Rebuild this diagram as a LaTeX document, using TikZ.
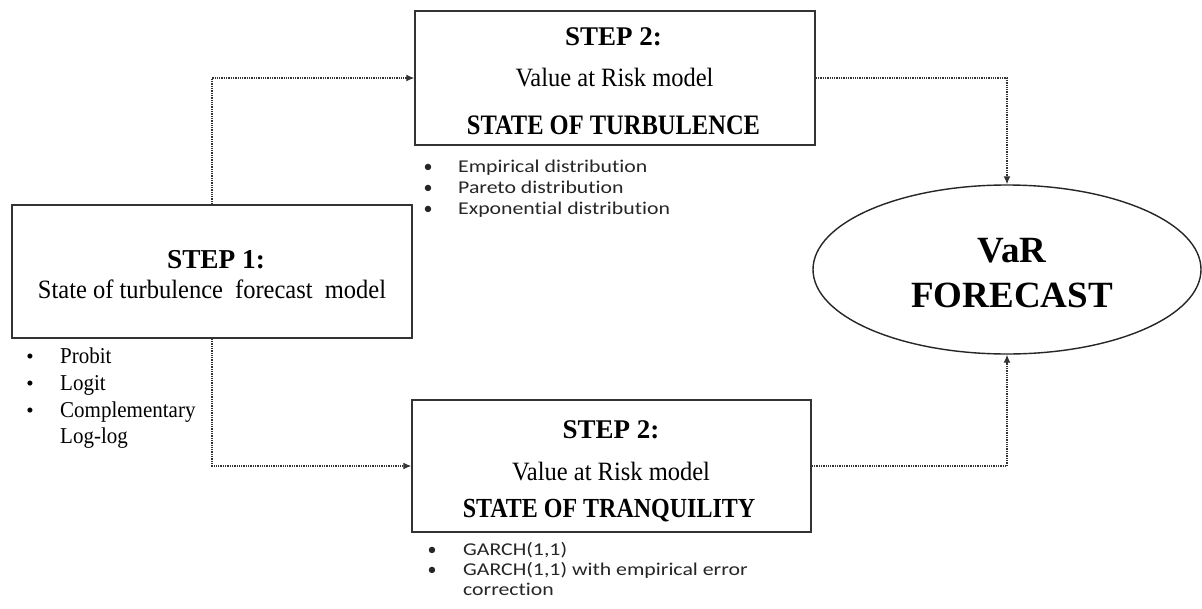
\documentclass[tikz,border=0pt]{standalone}
\usepackage{fontspec}
\setmainfont{Liberation Serif}
\newfontfamily\calib[Ligatures=NoCommon]{Carlito}
\usetikzlibrary{shapes.geometric,arrows.meta}
\newcommand{\tallbox}[2]{\scalebox{1}[#1]{#2}}
\newcommand{\widebox}[1]{\scalebox{1.21}[1]{#1}}
\tikzset{
  box/.style={draw=black!80, line width=1.4pt, rectangle, inner sep=0pt},
  oval/.style={draw=black!85, line width=1.4pt, ellipse, inner sep=0pt},
  conn/.style={draw=black!80, line width=1.3pt, densely dotted, -{Latex[length=8pt,width=7pt]}},
  txt/.style={anchor=base, inner sep=0pt, text=black},
  bul/.style={anchor=base, inner sep=0pt, text=black},
  itm/.style={anchor=base west, inner sep=0pt, text=black},
  cal/.style={font=\calib\fontsize{18}{22}\selectfont, text=black!85},
}
\begin{document}
\begin{tikzpicture}[x=1pt,y=-1pt]
\useasboundingbox[fill=white] (0,0) rectangle (1202,608);
% boxes
\node[box, minimum width=400pt, minimum height=134pt] (tb) at (615,78) {};
\node[box, minimum width=399pt, minimum height=132pt] (bb) at (611.5,466) {};
\node[box, minimum width=400pt, minimum height=133pt] (s1) at (212,271.5) {};
\node[oval, minimum width=388pt, minimum height=169pt] (var) at (1007,269.5) {};
% connectors
\draw[conn] (s1.north) |- (tb.west);
\draw[conn] (s1.south) |- (bb.west);
\draw[conn] (tb.east) -| (var.north);
\draw[conn] (bb.east) -| (var.south);
% top box text
\node[txt, font=\fontsize{27}{32}\selectfont\bfseries] (t1) at (613.5,45) {STEP 2:};
\node[txt, font=\fontsize{24.5}{29}\selectfont] (t2) at (614.5,86) {\tallbox{1.08}{Value at Risk model}};
\node[txt, font=\fontsize{24.5}{29}\selectfont\bfseries] (t3) at (613.5,134) {\tallbox{1.15}{STATE OF TURBULENCE}};
% bottom box text
\node[txt, font=\fontsize{27}{32}\selectfont\bfseries] (b1) at (611,438) {STEP 2:};
\node[txt, font=\fontsize{24.5}{29}\selectfont] (b2) at (611,480) {\tallbox{1.08}{Value at Risk model}};
\node[txt, font=\fontsize{24}{29}\selectfont\bfseries] (b3) at (609,517) {\tallbox{1.15}{STATE OF TRANQUILITY}};
% step 1 text
\node[txt, font=\fontsize{27.3}{32}\selectfont\bfseries] (s1a) at (216,268) {STEP 1:};
\node[txt, font=\fontsize{24.5}{29}\selectfont] (s1b) at (212,298) {\tallbox{1.08}{State of turbulence\hspace{6pt} forecast\hspace{6pt} model}};
% VaR
\node[txt, font=\fontsize{37}{44}\selectfont\bfseries] (v1) at (1012,262) {VaR};
\node[txt, font=\fontsize{37}{44}\selectfont\bfseries] (v2) at (1012,307) {FORECAST};
% left bullets
\foreach \y/\t [count=\i] in {363/Probit,390/Logit,417/Complementary} {
  \node[bul, font=\fontsize{21}{25}\selectfont] (lb\i) at (30,\y) {•};
  \node[itm, font=\fontsize{21}{25}\selectfont] (li\i) at (60,\y) {\tallbox{1.08}{\t}};
}
\node[itm, font=\fontsize{21}{25}\selectfont] (li4) at (60,443) {\tallbox{1.08}{Log-log}};
% top bullets
\foreach \y/\t [count=\i] in {172/Empirical distribution,193/Pareto distribution,214/Exponential distribution} {
  \node[bul, cal] (tbb\i) at (428,\y) {•};
  \node[itm, cal] (tbi\i) at (458,\y) {\widebox{\t}};
}
% bottom bullets
\node[bul, cal] (bbb1) at (432,555) {•};
\node[itm, cal] (bbi1) at (463,555) {\widebox{GARCH(1,1)}};
\node[bul, cal] (bbb2) at (432,575) {•};
\node[itm, cal] (bbi2) at (463,575) {\widebox{GARCH(1,1) with empirical error}};
\node[itm, cal] (bbi3) at (463,595) {\widebox{correction}};
\end{tikzpicture}
\end{document}
